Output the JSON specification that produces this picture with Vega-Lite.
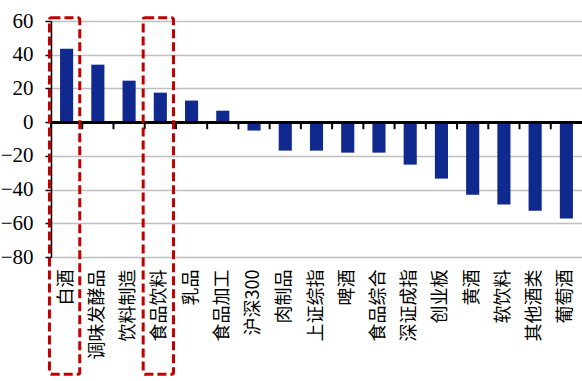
{
  "$schema": "https://vega.github.io/schema/vega-lite/v6.json",
  "autosize": {"type": "none"},
  "padding": {"left": 51, "top": 21, "right": 0, "bottom": 124},
  "width": 531,
  "height": 236,
  "background": "white",
  "config": {
    "view": {"stroke": null},
    "axisX": {
      "domain": false,
      "ticks": false,
      "grid": false,
      "labelAngle": -90,
      "labelFont": "Noto Sans CJK SC",
      "labelFontSize": 18,
      "labelColor": "#000000",
      "labelPadding": 12,
      "labelOverlap": false
    },
    "axisY": {
      "labelOverlap": false,
      "labelFlush": false,
      "domainColor": "#000000",
      "domainWidth": 1.5,
      "tickColor": "#000000",
      "tickWidth": 1.5,
      "tickSize": 6,
      "labelFont": "Liberation Sans Narrow",
      "labelFontSize": 21,
      "labelColor": "#000000",
      "labelPadding": 12,
      "grid": true,
      "gridColor": "#BFBFBF",
      "gridWidth": 1.5
    }
  },
  "datasets": {
    "returns": [
      {"sector": "白酒", "change": 43.6},
      {"sector": "调味发酵品", "change": 34.1},
      {"sector": "饮料制造", "change": 24.6},
      {"sector": "食品饮料", "change": 17.5},
      {"sector": "乳品", "change": 12.8},
      {"sector": "食品加工", "change": 6.8},
      {"sector": "沪深300", "change": -5.0},
      {"sector": "肉制品", "change": -16.9},
      {"sector": "上证综指", "change": -16.9},
      {"sector": "啤酒", "change": -18.1},
      {"sector": "食品综合", "change": -18.1},
      {"sector": "深证成指", "change": -25.2},
      {"sector": "创业板", "change": -33.5},
      {"sector": "黄酒", "change": -43.0},
      {"sector": "软饮料", "change": -48.9},
      {"sector": "其他酒类", "change": -52.5},
      {"sector": "葡萄酒", "change": -57.2}
    ],
    "highlight": [
      {"sector": "白酒"},
      {"sector": "食品饮料"}
    ]
  },
  "layer": [
    {
      "data": {"name": "returns"},
      "mark": {"type": "bar", "color": "#10298F", "width": {"band": 0.42}},
      "encoding": {
        "x": {
          "field": "sector",
          "type": "nominal",
          "sort": null,
          "title": null,
          "scale": {"paddingInner": 0, "paddingOuter": 0}
        },
        "y": {
          "field": "change",
          "type": "quantitative",
          "title": null,
          "scale": {"domain": [-80, 60], "nice": false, "zero": false},
          "axis": {"values": [-80, -60, -40, -20, 0, 20, 40, 60]}
        }
      }
    },
    {
      "data": {"name": "returns"},
      "mark": {"type": "rule", "color": "#000000", "strokeWidth": 2},
      "encoding": {
        "y": {"datum": 0, "axis": {"values": [-80, -60, -40, -20, 0, 20, 40, 60]}}
      }
    },
    {
      "data": {"name": "returns"},
      "mark": {"type": "rule", "color": "#000000", "strokeWidth": 2},
      "encoding": {
        "x": {"field": "sector", "type": "nominal", "sort": null, "title": null, "bandPosition": 0},
        "y": {"datum": 0, "axis": {"values": [-80, -60, -40, -20, 0, 20, 40, 60]}},
        "y2": {"datum": -4.2}
      }
    },
    {
      "data": {"name": "highlight"},
      "mark": {
        "type": "rect",
        "fill": null,
        "stroke": "#C00000",
        "strokeWidth": 3,
        "strokeDash": [9, 4],
        "cornerRadius": 2,
        "width": {"band": 0.97},
        "xOffset": -2,
        "clip": false
      },
      "encoding": {
        "x": {"field": "sector", "type": "nominal", "sort": null, "title": null},
        "y": {"datum": 62, "axis": {"values": [-80, -60, -40, -20, 0, 20, 40, 60]}},
        "y2": {"datum": -149.5}
      }
    }
  ]
}
